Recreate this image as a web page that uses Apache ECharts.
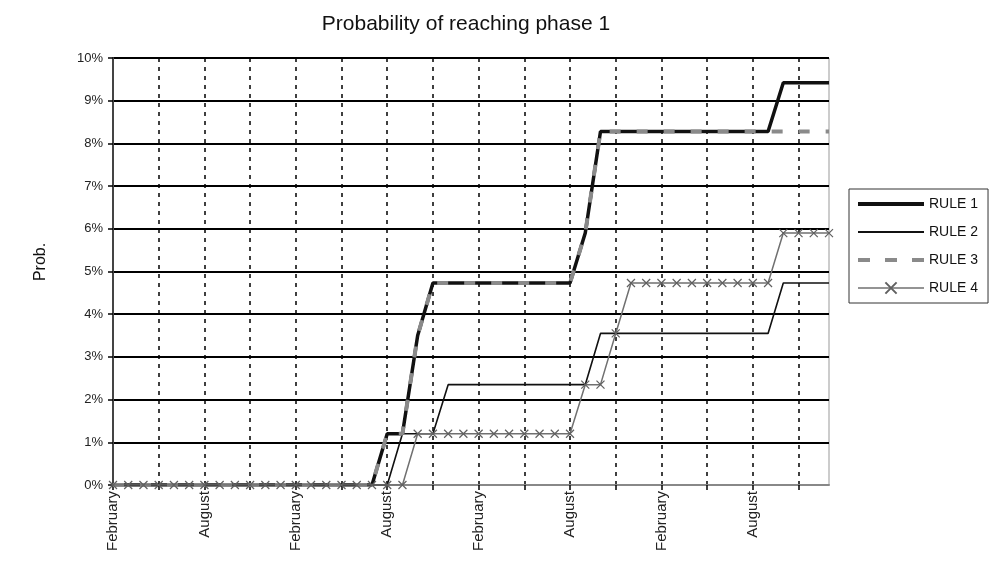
<!DOCTYPE html>
<html><head><meta charset="utf-8">
<script src="https://cdn.jsdelivr.net/npm/echarts@6/dist/echarts.min.js"></script>
<style>html,body{margin:0;padding:0;background:#fff}#c{width:992px;height:564px}</style>
</head><body><div id="c"></div>
<script>
const categories = [
  'February','March','April','May','June','July','August','September','October','November','December','January',
  'February','March','April','May','June','July','August','September','October','November','December','January',
  'February','March','April','May','June','July','August','September','October','November','December','January',
  'February','March','April','May','June','July','August','September','October','November','December','January'
];
const rule1 = [0,0,0,0,0,0,0,0,0,0,0,0,0,0,0,0,0,0,1.2,1.2,3.5,4.73,4.73,4.73,4.73,4.73,4.73,4.73,4.73,4.73,4.73,5.9,8.28,8.28,8.28,8.28,8.28,8.28,8.28,8.28,8.28,8.28,8.28,8.28,9.42,9.42,9.42,9.42];
const rule2 = [0,0,0,0,0,0,0,0,0,0,0,0,0,0,0,0,0,0,0,1.2,1.2,1.2,2.35,2.35,2.35,2.35,2.35,2.35,2.35,2.35,2.35,2.35,3.55,3.55,3.55,3.55,3.55,3.55,3.55,3.55,3.55,3.55,3.55,3.55,4.73,4.73,4.73,4.73];
const rule3 = [0,0,0,0,0,0,0,0,0,0,0,0,0,0,0,0,0,0,1.2,1.2,3.5,4.73,4.73,4.73,4.73,4.73,4.73,4.73,4.73,4.73,4.73,5.9,8.28,8.28,8.28,8.28,8.28,8.28,8.28,8.28,8.28,8.28,8.28,8.28,8.28,8.28,8.28,8.28];
const rule4 = [0,0,0,0,0,0,0,0,0,0,0,0,0,0,0,0,0,0,0,0,1.2,1.2,1.2,1.2,1.2,1.2,1.2,1.2,1.2,1.2,1.2,2.35,2.35,3.55,4.73,4.73,4.73,4.73,4.73,4.73,4.73,4.73,4.73,4.73,5.9,5.9,5.9,5.9];
const seriesNames = ['RULE 1','RULE 2','RULE 3','RULE 4'];

const FONT = 'Liberation Sans, Arial, sans-serif';
const chart = echarts.init(document.getElementById('c'), null, {renderer:'canvas'});
const hSplitColors = ['#999'].concat(Array(10).fill('#000'));
chart.setOption({
  animation: false,
  backgroundColor: '#fff',
  title: {
    text: 'Probability of reaching phase 1',
    left: 461, top: 9, textAlign: 'center',
    textStyle: {fontFamily: FONT, fontSize: 21, fontWeight: 'normal', color: '#111'}
  },
  graphic: [{
    type: 'text', x: 41, y: 262, rotation: Math.PI / 2,
    style: {text: 'Prob.', font: '16px ' + FONT, fill: '#111', align: 'center', verticalAlign: 'middle'}
  }],
  legend: {
    orient: 'vertical', left: 849, top: 189,
    padding: [8, 10, 8, 7],
    borderColor: '#333', borderWidth: 1,
    itemWidth: 66, itemHeight: 14, itemGap: 14,
    data: [
      {name: seriesNames[0], itemStyle: {opacity: 0}, lineStyle: {width: 4, color: '#111'}},
      {name: seriesNames[1], itemStyle: {opacity: 0}, lineStyle: {width: 1.8, color: '#111'}},
      {name: seriesNames[2], itemStyle: {opacity: 0}, lineStyle: {width: 4, color: '#8a8a8a', type: [12, 15]}},
      {name: seriesNames[3], lineStyle: {width: 1.3, color: '#707070'}}
    ],
    textStyle: {fontFamily: FONT, fontSize: 14, color: '#111'}
  },
  grid: {left: 113, right: 163, top: 58, bottom: 79, show: true, borderColor: '#999', borderWidth: 1, containLabel: false},
  xAxis: {
    type: 'category', data: categories, boundaryGap: false,
    axisLine: {lineStyle: {color: '#888', width: 2}},
    axisTick: {show: true, interval: 2, length: 5, lineStyle: {color: '#000', width: 1.5}},
    axisLabel: {interval: 5, rotate: 90, margin: 6, fontFamily: FONT, fontSize: 15, color: '#222'},
    splitLine: {show: true, interval: 2, lineStyle: {color: '#000', width: 1.5, type: [4, 5]}}
  },
  yAxis: {
    type: 'value', min: 0, max: 10, interval: 1,
    axisLine: {show: true, lineStyle: {color: '#444', width: 2}},
    axisTick: {show: true, length: 5, lineStyle: {color: '#000', width: 1.5}},
    axisLabel: {formatter: '{value}%', margin: 10, fontFamily: FONT, fontSize: 13, color: '#222'},
    splitLine: {show: true, lineStyle: {color: hSplitColors, width: 2}}
  },
  series: [
    {name: seriesNames[0], type: 'line', data: rule1, symbol: 'none', lineStyle: {color: '#111', width: 3.5}, itemStyle: {color: '#111'}},
    {name: seriesNames[1], type: 'line', data: rule2, symbol: 'none', lineStyle: {color: '#111', width: 1.6}, itemStyle: {color: '#111'}},
    {name: seriesNames[2], type: 'line', data: rule3, symbol: 'none', lineStyle: {color: '#8a8a8a', width: 4, type: [11, 16]}, itemStyle: {color: '#8a8a8a'}},
    {name: seriesNames[3], type: 'line', data: rule4, symbol: 'path://M0,0L10,10M10,0L0,10', symbolSize: 8, showAllSymbol: true,
      lineStyle: {color: '#707070', width: 1.5}, itemStyle: {color: '#707070', borderColor: '#606060', borderWidth: 1.2}}
  ]
});
</script></body></html>
